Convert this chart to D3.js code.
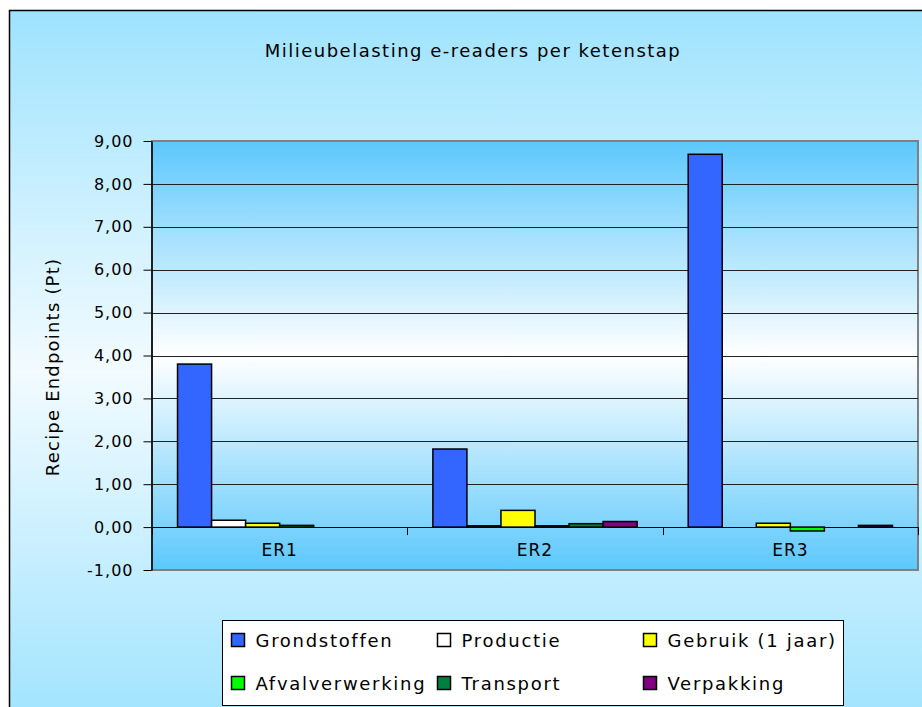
<!DOCTYPE html>
<html>
<head>
<meta charset="utf-8">
<script src="https://cdn.jsdelivr.net/npm/d3@7"></script>
<style>
  body { margin: 0; background: #ffffff; }
  svg { display: block; font-family: "DejaVu Sans", sans-serif; }
</style>
</head>
<body>
<svg id="chart" width="922" height="707"></svg>
<script>
// categorieen (e-readers) en ketenstappen
var categories = ["ER1", "ER2", "ER3"];
var series = ["Grondstoffen", "Productie", "Gebruik (1 jaar)", "Afvalverwerking", "Transport", "Verpakking"];
var colors = ["#3366ff", "#ffffff", "#ffff00", "#00ff00", "#008040", "#800080"];

// waarden per ketenstap, in volgorde ER1, ER2, ER3
var grondstoffen = [3.80, 1.82, 8.69];
var productie = [0.16, 0.03, 0.00];
var gebruik = [0.09, 0.39, 0.09];
var afvalverwerking = [0.04, 0.03, -0.09];
var transport = [0.00, 0.08, 0.00];
var verpakking = [0.00, 0.13, 0.04];

var yTicks = [-1, 0, 1, 2, 3, 4, 5, 6, 7, 8, 9];
var title = "Milieubelasting e-readers per ketenstap";
var yLabel = "Recipe Endpoints (Pt)";

var values = [grondstoffen, productie, gebruik, afvalverwerking, transport, verpakking];

var svg = d3.select("#chart");
var defs = svg.append("defs");

/* verloop voor achtergrond en plotgebied */
function verloop(id, rand, midden) {
    var g = defs.append("linearGradient").attr("id", id)
        .attr("x1", 0).attr("y1", 0).attr("x2", 0).attr("y2", 1);
    g.append("stop").attr("offset", "0%").attr("stop-color", rand);
    g.append("stop").attr("offset", "50%").attr("stop-color", midden);
    g.append("stop").attr("offset", "100%").attr("stop-color", rand);
}
verloop("bgOuter", "#9ee3fe", "#f2fbff");
verloop("bgPlot", "#5cc8fc", "#ffffff");

// buitenkader
svg.append("rect")
    .attr("x", 9.5).attr("y", 10.5)
    .attr("width", 940).attr("height", 720)
    .attr("fill", "url(#bgOuter)")
    .attr("stroke", "#000").attr("stroke-width", 1.5);

var plot = { left: 152, right: 918, top: 141, bottom: 570 };

var x = d3.scaleBand().domain(categories).range([plot.left, plot.right]).padding(0);
var xs = d3.scaleBand().domain(series).range([0, x.bandwidth()]).paddingInner(0).paddingOuter(0.75);
var y = d3.scaleLinear().domain([-1, 9]).range([plot.bottom, plot.top]);

// plotgebied
svg.append("rect")
    .attr("x", plot.left).attr("y", plot.top)
    .attr("width", plot.right - plot.left).attr("height", plot.bottom - plot.top)
    .attr("fill", "url(#bgPlot)")
    .attr("stroke", "#808080").attr("stroke-width", 2);

// rasterlijnen
svg.append("g").selectAll("line")
    .data(yTicks.filter(function (d) { return d > -1 && d < 9; }))
    .enter().append("line")
    .attr("x1", plot.left).attr("x2", plot.right)
    .attr("y1", function (d) { return Math.round(y(d)) + 0.5; })
    .attr("y2", function (d) { return Math.round(y(d)) + 0.5; })
    .attr("stroke", function (d) { return d === 0 ? "#000" : "#222"; })
    .attr("stroke-width", 1);

// staven
var rows = [];
categories.forEach(function (c, ci) {
    series.forEach(function (s, si) {
        rows.push({ cat: c, serie: s, kleur: colors[si], v: values[si][ci] });
    });
});
svg.append("g").selectAll("rect")
    .data(rows.filter(function (d) { return d.v !== 0; }))
    .enter().append("rect")
    .attr("x", function (d) { return x(d.cat) + xs(d.serie); })
    .attr("width", xs.bandwidth())
    .attr("y", function (d) { return y(Math.max(0, d.v)); })
    .attr("height", function (d) { return Math.abs(y(d.v) - y(0)); })
    .attr("fill", function (d) { return d.kleur; })
    .attr("stroke", "#000").attr("stroke-width", 1.5);

// y-as
var fmt = d3.formatLocale({ decimal: ",", thousands: ".", grouping: [3], currency: ["", ""], minus: "-" }).format(".2f");
var yAxis = svg.append("g")
    .attr("transform", "translate(" + (plot.left - 0.5) + ",0)")
    .call(d3.axisLeft(y).tickValues(yTicks).tickFormat(fmt).tickSize(8).tickSizeOuter(0).tickPadding(10));
yAxis.select(".domain").attr("stroke", "#000").attr("stroke-width", 1.5);
yAxis.selectAll(".tick line").attr("stroke", "#000");
yAxis.selectAll("text")
    .attr("font-family", "DejaVu Sans").attr("font-size", 16)
    .attr("letter-spacing", 1).attr("fill", "#000");

// categorie-as: streepjes op de grenzen, labels in het midden
var grenzen = categories.map(function (c) { return x(c); }).concat([plot.right]);
svg.append("g").selectAll("line")
    .data(grenzen)
    .enter().append("line")
    .attr("x1", function (d) { return Math.round(d) + 0.5; })
    .attr("x2", function (d) { return Math.round(d) + 0.5; })
    .attr("y1", y(0)).attr("y2", y(0) + 8)
    .attr("stroke", "#000");
svg.append("g").selectAll("text")
    .data(categories)
    .enter().append("text")
    .attr("x", function (d) { return x(d) + x.bandwidth() / 2; })
    .attr("y", y(0) + 29)
    .attr("text-anchor", "middle")
    .attr("font-size", 17).attr("letter-spacing", 1)
    .text(function (d) { return d; });

// titel
svg.append("text")
    .attr("x", 473).attr("y", 57)
    .attr("text-anchor", "middle")
    .attr("font-size", 18).attr("letter-spacing", 1.5)
    .text(title);

// y-label
svg.append("text")
    .attr("transform", "translate(59,367) rotate(-90)")
    .attr("text-anchor", "middle")
    .attr("font-size", 18).attr("letter-spacing", 1.2)
    .text(yLabel);

// legenda
var legend = svg.append("g").attr("transform", "translate(222.5,620.5)");
legend.append("rect")
    .attr("width", 621).attr("height", 85)
    .attr("fill", "#fff").attr("stroke", "#000").attr("stroke-width", 1);
var item = legend.selectAll("g.item")
    .data(series)
    .enter().append("g")
    .attr("class", "item")
    .attr("transform", function (d, i) {
        return "translate(" + (9 + (i % 3) * 206) + "," + (20 + Math.floor(i / 3) * 43) + ")";
    });
item.append("rect")
    .attr("x", 0).attr("y", -7).attr("width", 13).attr("height", 13)
    .attr("fill", function (d, i) { return colors[i]; })
    .attr("stroke", "#000").attr("stroke-width", 1.5);
item.append("text")
    .attr("x", 24).attr("y", 6)
    .attr("font-size", 18).attr("letter-spacing", 1.7)
    .text(function (d) { return d; });
</script>
</body>
</html>
